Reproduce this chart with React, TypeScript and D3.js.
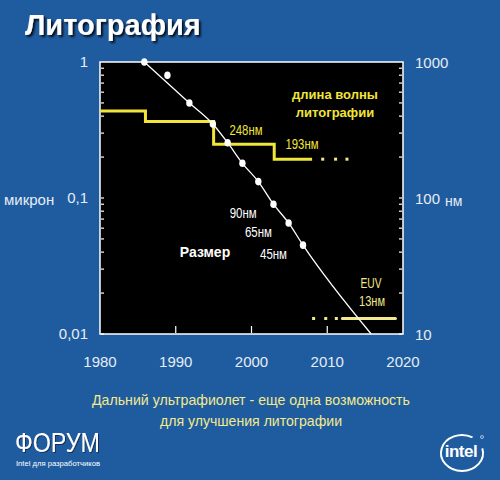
import React from "react";
import * as d3 from "d3";

// ---- data ----
const xTickYears = [1980, 1990, 2000, 2010, 2020];
const leftTickLabels = ["1", "0,1", "0,01"];
const leftTickValues = [1, 0.1, 0.01];
const rightTickLabels = ["1000", "100", "10"];
const rightTickValues = [1000, 100, 10];

// feature size (microns)
const sizeYears = [1985.85, 1988.9, 1991.8, 1994.9, 1996.85, 1998.8, 2000.9, 2002.9, 2004.9, 2006.8];
const sizeValues = [1.0, 0.8, 0.5, 0.35, 0.255, 0.18, 0.132, 0.09, 0.0655, 0.045];
// trend line drawn through the plotted points (point 2 lies off it)
const trendYears = [1985.85, 1991.8, 1994.9, 1996.85, 1998.8, 2000.9, 2002.9, 2004.9, 2006.8, 2015.8];
const trendValues = [1.0, 0.5, 0.35, 0.255, 0.18, 0.132, 0.09, 0.0655, 0.045, 0.01];

// lithography wavelength (nm), step line
const waveYears = [1980, 1986, 1995, 2003, 2008];
const waveValues = [436, 365, 248, 193, 193];
const waveDotYears = [2009.4, 2011.1, 2012.6];
const waveDotValue = 193;
const euvYears = [2012, 2019];
const euvValue = 13;
const euvDotYears = [2008.2, 2009.8, 2011.2];

const sizeLabels = ["90нм", "65нм", "45нм"];
const sizeLabelYears = [2003, 2005, 2007];

const W = 500;
const H = 480;
const BG = "#1f5c9f";
const YEL = "#f2e53a";
const PALE = "#f3e98c";
const TXT = "#e6ecf5";

export default function App() {
  const x = d3.scaleLinear().domain([1980, 2020]).range([100, 403]);
  const yL = d3.scaleLog().domain([0.01, 1]).range([334, 62]);
  const yR = d3.scaleLog().domain([10, 1000]).range([334, 62]);

  const minor: number[] = [];
  [0.01, 0.1].forEach((d) => {
    for (let k = 1; k <= 9; k++) minor.push(d * k);
  });

  const trend = d3
    .line<number>()
    .curve(d3.curveMonotoneX)
    .x((_, i) => x(trendYears[i]))
    .y((_, i) => yL(trendValues[i]))(trendValues);

  const wave = d3
    .line<number>()
    .curve(d3.curveStepAfter)
    .x((_, i) => x(waveYears[i]))
    .y((_, i) => yR(waveValues[i]))(waveValues);

  const euv = d3
    .line<number>()
    .x((d) => x(d))
    .y(() => yR(euvValue))(euvYears);

  const sans = "'Liberation Sans', Arial, sans-serif";
  const narrow = "'Liberation Sans Narrow', 'Liberation Sans', sans-serif";

  // intel logo ellipse arc
  const cx = 462, cy = 453, rx = 21, ry = 18;
  const a1 = (-15 * Math.PI) / 180, a2 = (-60 * Math.PI) / 180;
  const swoosh = `M${cx + rx * Math.cos(a1)},${cy + ry * Math.sin(a1)} A${rx},${ry} 0 1 1 ${cx + rx * Math.cos(a2)},${cy + ry * Math.sin(a2)}`;

  return (
    <svg
      width={W}
      height={H}
      style={{ position: "fixed", left: 0, top: 0, display: "block" }}
      fontFamily={sans}
    >
      <defs>
        <filter id="shadow" x="-10%" y="-20%" width="130%" height="160%">
          <feDropShadow dx="2" dy="2" stdDeviation="0.8" floodColor="#000" floodOpacity="0.85" />
        </filter>
        <filter id="shadow2" x="-10%" y="-20%" width="130%" height="160%">
          <feDropShadow dx="1" dy="1" stdDeviation="0.6" floodColor="#0b2547" floodOpacity="0.8" />
        </filter>
      </defs>
      <rect width={W} height={H} fill={BG} />

      {/* title */}
      <text x={25} y={35} fontSize={29} fontWeight="bold" fill="#ffffff" filter="url(#shadow)">
        Литография
      </text>

      {/* plot area */}
      <rect x={100} y={62} width={303} height={272} fill="#000" stroke="#ffffff" strokeWidth={1.5} />

      {/* minor ticks left / right */}
      {minor.map((v, i) => (
        <g key={i}>
          <line x1={101} x2={104} y1={yL(v)} y2={yL(v)} stroke="#fff" strokeWidth={1.2} />
          <line x1={399} x2={402} y1={yL(v)} y2={yL(v)} stroke="#fff" strokeWidth={1.2} />
        </g>
      ))}
      {/* bottom ticks */}
      {xTickYears.slice(1, 4).map((yr) => (
        <line key={yr} x1={x(yr)} x2={x(yr)} y1={333} y2={326} stroke="#fff" strokeWidth={1.2} />
      ))}

      {/* wavelength step line */}
      <path d={wave || ""} fill="none" stroke={YEL} strokeWidth={3} />
      {waveDotYears.map((yr, i) => (
        <line key={i} x1={x(yr) - 1.5} x2={x(yr) + 1.5} y1={yR(waveDotValue)} y2={yR(waveDotValue)} stroke={PALE} strokeWidth={3} />
      ))}
      {euvDotYears.map((yr, i) => (
        <line key={i} x1={x(yr) - 1.5} x2={x(yr) + 1.5} y1={yR(euvValue)} y2={yR(euvValue)} stroke={PALE} strokeWidth={3} />
      ))}
      <path d={euv || ""} fill="none" stroke={PALE} strokeWidth={3} strokeLinecap="round" />

      {/* trend line and points */}
      <path d={trend || ""} fill="none" stroke="#fff" strokeWidth={1.3} />
      {sizeValues.map((v, i) => (
        <ellipse key={i} cx={x(sizeYears[i])} cy={yL(v)} rx={3.2} ry={3.8} fill="#fff" />
      ))}

      {/* in-plot labels */}
      <text x={335} y={99} textAnchor="middle" fontSize={13} fontWeight="bold" fill={YEL}>
        длина волны
      </text>
      <text x={335} y={117} textAnchor="middle" fontSize={13} fontWeight="bold" fill={YEL}>
        литографии
      </text>
      <text x={246} y={135} textAnchor="middle" fontSize={14} fill={YEL} fontFamily={narrow} textLength={33} lengthAdjust="spacingAndGlyphs">
        248нм
      </text>
      <text x={302} y={149} textAnchor="middle" fontSize={14} fill={YEL} fontFamily={narrow} textLength={33} lengthAdjust="spacingAndGlyphs">
        193нм
      </text>
      <text x={371} y={288} textAnchor="middle" fontSize={14} fill={PALE} fontFamily={narrow} textLength={21} lengthAdjust="spacingAndGlyphs">
        EUV
      </text>
      <text x={372} y={306} textAnchor="middle" fontSize={14} fill={PALE} fontFamily={narrow} textLength={26} lengthAdjust="spacingAndGlyphs">
        13нм
      </text>
      {sizeLabels.map((s, i) => (
        <text
          key={s}
          x={x(sizeLabelYears[i]) - 31}
          y={yL(sizeValues[7 + i]) + 14}
          textAnchor="middle"
          fontSize={14}
          fill="#fff"
          fontFamily={narrow}
          textLength={27}
          lengthAdjust="spacingAndGlyphs"
        >
          {s}
        </text>
      ))}
      <text x={205} y={257} textAnchor="middle" fontSize={14} fontWeight="bold" fill="#fff">
        Размер
      </text>

      {/* left axis labels */}
      {leftTickValues.map((v, i) => (
        <text key={i} x={88} y={yL(v) + 5} textAnchor="end" fontSize={15} fill={TXT}>
          {leftTickLabels[i]}
        </text>
      ))}
      <text x={4} y={205} fontSize={15} fill={TXT}>
        микрон
      </text>
      {/* right axis labels */}
      {rightTickValues.map((v, i) => (
        <text key={i} x={415} y={yR(v) + 6} fontSize={15} fill={TXT}>
          {rightTickLabels[i]}
        </text>
      ))}
      <text x={445} y={206} fontSize={14} fill={TXT}>
        нм
      </text>
      {/* x axis labels */}
      {xTickYears.map((yr) => (
        <text key={yr} x={x(yr)} y={367} textAnchor="middle" fontSize={15} fill={TXT}>
          {yr}
        </text>
      ))}

      {/* caption */}
      <text x={251} y={405} textAnchor="middle" fontSize={15} fill={PALE} textLength={318} lengthAdjust="spacingAndGlyphs">
        Дальний ультрафиолет - еще одна возможность
      </text>
      <text x={251} y={426} textAnchor="middle" fontSize={15} fill={PALE} textLength={182} lengthAdjust="spacingAndGlyphs">
        для улучшения литографии
      </text>

      {/* forum logo */}
      <text x={15} y={452} fontSize={27} fill="#ffffff" filter="url(#shadow2)" textLength={85} lengthAdjust="spacingAndGlyphs">
        ФОРУМ
      </text>
      <text x={16} y={466} fontSize={8} fill="#ffffff" textLength={84} lengthAdjust="spacingAndGlyphs">
        Intel для разработчиков
      </text>

      {/* intel logo */}
      <path d={swoosh} fill="none" stroke="#fff" strokeWidth={2} />
      <text x={461} y={457} textAnchor="middle" fontSize={17} fontWeight="bold" fill="#fff" letterSpacing={-0.5}>
        intel
      </text>
      <circle cx={482} cy={437} r={1.5} fill="none" stroke="#fff" strokeWidth={0.6} />
    </svg>
  );
}
